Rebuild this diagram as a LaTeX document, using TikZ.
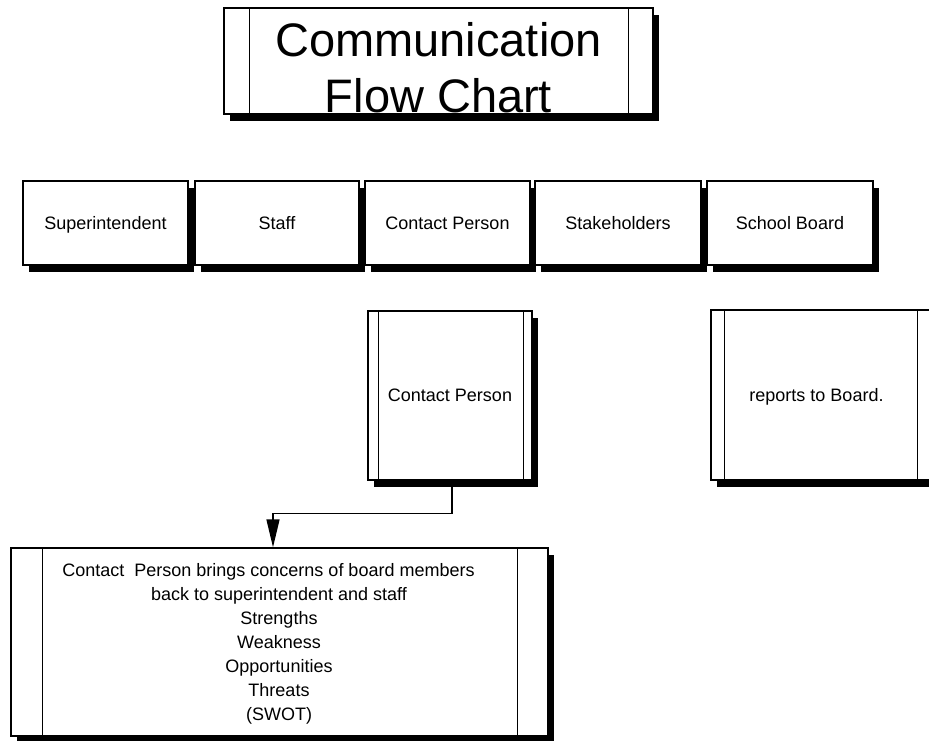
\documentclass[tikz,border=0pt]{standalone}
\usepackage{fontspec}
\setmainfont{Liberation Sans}
\usetikzlibrary{shadows,arrows.meta}
\tikzset{
  box/.style={draw, line width=1.4pt, fill=white, inner sep=0pt,
    drop shadow={shadow xshift=6pt, shadow yshift=-7pt, fill=black, opacity=1},
    font=\fontsize{18}{24}\selectfont},
  onetext/.style={text height=12.9pt, text depth=0pt},
  rowbox/.style={box, onetext, minimum height=84pt},
  side/.style={line width=1.4pt},
  flow/.style={line width=1.5pt, -{Triangle[length=28pt,width=13pt]}},
  bodytext/.style={inner sep=0pt, align=center, font=\fontsize{18}{24}\selectfont}
}
\begin{document}
\begin{tikzpicture}[x=1pt,y=-1pt]
\path[use as bounding box] (0,0) rectangle (929,741);
\clip (0,0) rectangle (929,741);

% title banner
\node[box, minimum width=429pt, minimum height=106pt] (title) at (438.5,61) {};
\draw[side] ([xshift=26pt]title.north west) -- ([xshift=26pt]title.south west);
\draw[side] ([xshift=-25pt]title.north east) -- ([xshift=-25pt]title.south east);
% anchored on the baseline of the last line
\node[anchor=base, inner sep=0pt, align=center,
      font=\fontsize{47}{56}\selectfont] (titletext) at (438.5,113)
      {Communication\\Flow Chart};

% row of roles
\node[rowbox, minimum width=165pt] (sup)   at (105.5,223) {Superintendent};
\node[rowbox, minimum width=164pt] (staff) at (277,223)   {Staff};
\node[rowbox, minimum width=165pt] (cp)    at (447.5,223) {Contact Person};
\node[rowbox, minimum width=166pt] (stake) at (618,223)   {Stakeholders};
\node[rowbox, minimum width=166pt] (board) at (790,223)   {School Board};

% contact person process box
\node[box, onetext, minimum width=164pt, minimum height=169pt] (cp2) at (450,395.5) {Contact Person};
\draw[side] ([xshift=11pt]cp2.north west) -- ([xshift=11pt]cp2.south west);
\draw[side] ([xshift=-9pt]cp2.north east) -- ([xshift=-9pt]cp2.south east);

% reporting box
\node[box, onetext, minimum width=220pt, minimum height=170pt] (rep) at (821,395) {reports to Board.\hspace*{9pt}};
\draw[side] ([xshift=14pt]rep.north west) -- ([xshift=14pt]rep.south west);
\draw[side] ([xshift=-14pt]rep.north east) -- ([xshift=-14pt]rep.south east);

% SWOT box
\node[box, minimum width=537pt, minimum height=188pt] (swot) at (279.5,642) {};
\draw[side] ([xshift=32pt]swot.north west) -- ([xshift=32pt]swot.south west);
\draw[side] ([xshift=-31pt]swot.north east) -- ([xshift=-31pt]swot.south east);
% anchored on the baseline of the last line
\node[bodytext, anchor=base] (swottext) at (279,720)
  {Contact\ \ Person brings concerns of board members\hspace*{21pt}\\
   back to superintendent and staff\hspace*{16pt}\\
   Strengths\\Weakness\\Opportunities\\Threats\\(SWOT)};

% connector
\draw[flow] ([xshift=2pt]cp2.south) -- ++(0,33) -| ([xshift=-6.5pt]swot.north);
\end{tikzpicture}
\end{document}
